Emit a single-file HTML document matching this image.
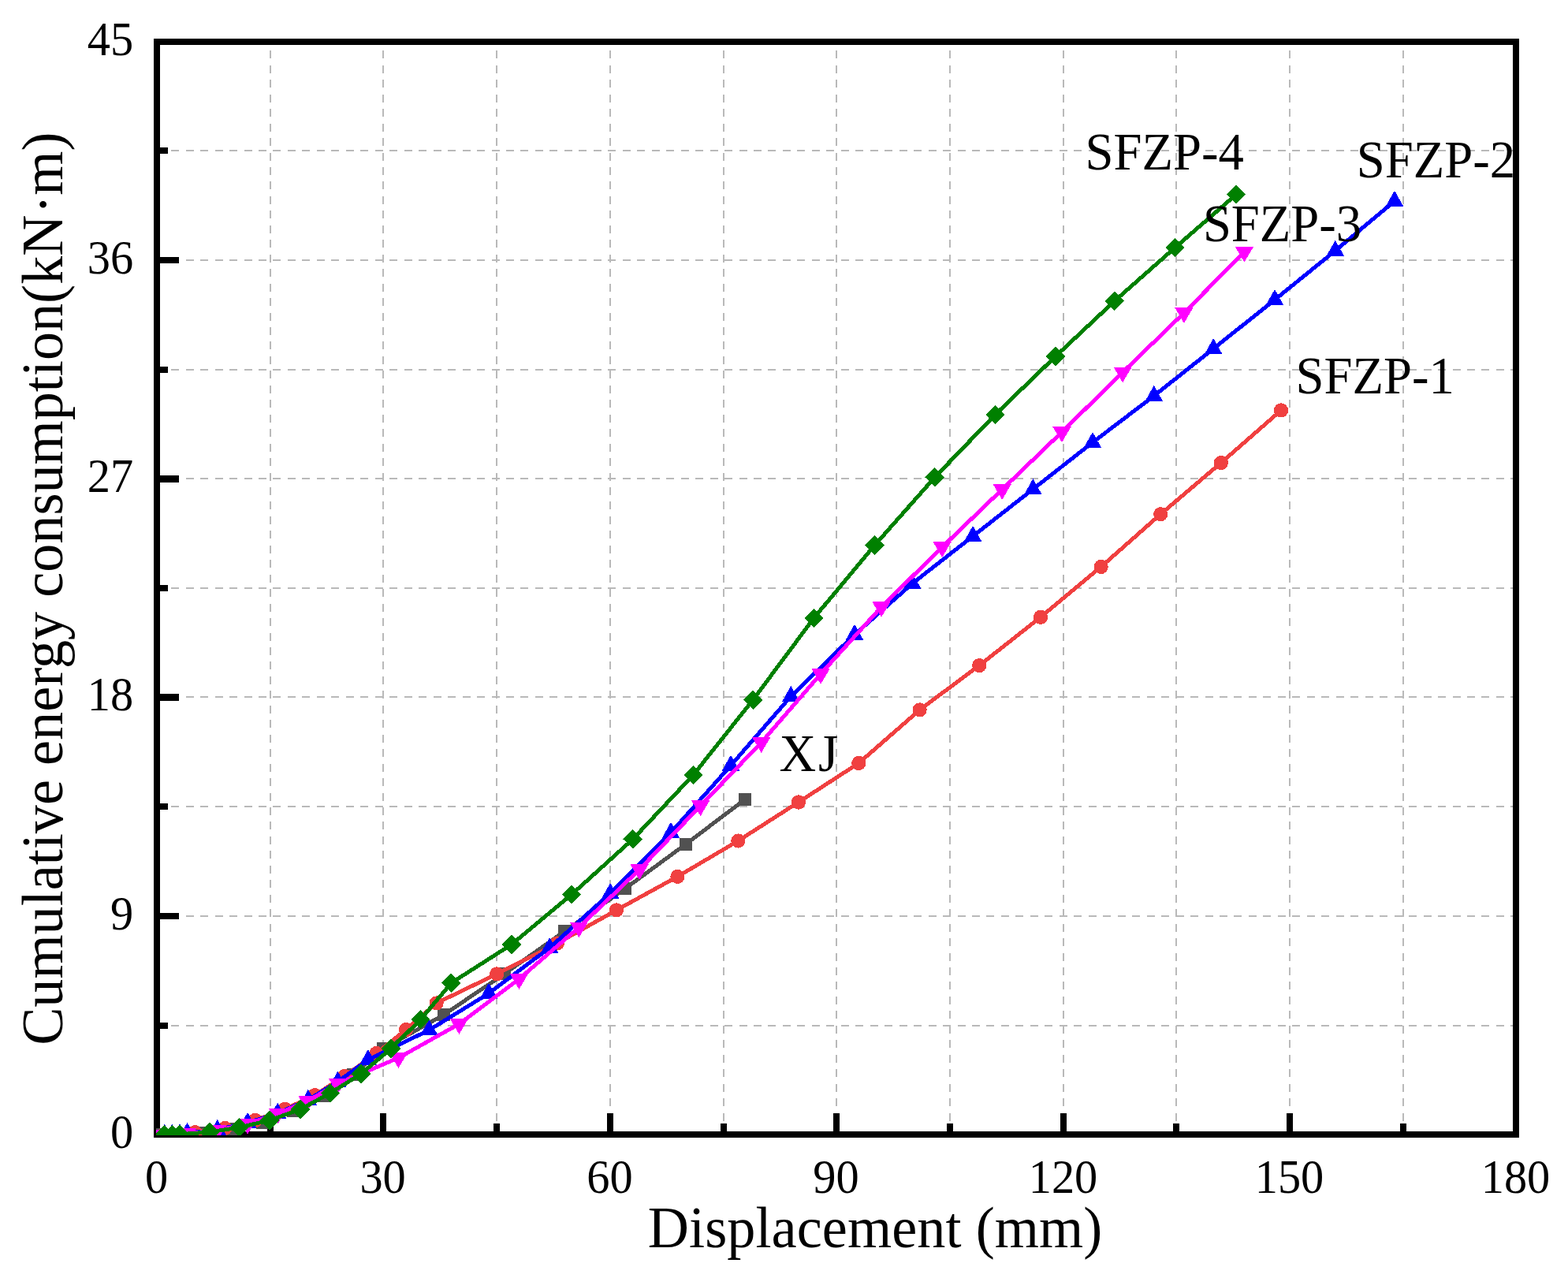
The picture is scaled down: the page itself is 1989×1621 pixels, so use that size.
<!DOCTYPE html>
<html lang="en"><head><meta charset="utf-8"><title>Cumulative energy consumption vs displacement</title>
<style>
html,body{margin:0;padding:0;background:#fff;}
body{width:1989px;height:1621px;overflow:hidden;}
svg{display:block;}
text{font-family:"Liberation Serif","Times New Roman",Times,serif;fill:#000;}
.tk{font-size:58.4px;}
.ti{font-size:72.2px;}
.lb{font-size:64.7px;}
</style></head><body>
<svg width="1989" height="1621" viewBox="0 0 1989 1621" role="img" aria-label="Cumulative energy consumption versus displacement">
<defs><clipPath id="pc"><rect x="198" y="53" width="1726" height="1387"/></clipPath></defs>
<rect width="1989" height="1621" fill="#fff"/>
<g stroke="#b9b9b9" stroke-width="2" fill="none" shape-rendering="crispEdges">
<g stroke-dasharray="10 8.454">
<line x1="343" y1="1440" x2="343" y2="53"/>
<line x1="486" y1="1440" x2="486" y2="53"/>
<line x1="630" y1="1440" x2="630" y2="53"/>
<line x1="774" y1="1440" x2="774" y2="53"/>
<line x1="918" y1="1440" x2="918" y2="53"/>
<line x1="1061" y1="1440" x2="1061" y2="53"/>
<line x1="1205" y1="1440" x2="1205" y2="53"/>
<line x1="1349" y1="1440" x2="1349" y2="53"/>
<line x1="1492" y1="1440" x2="1492" y2="53"/>
<line x1="1636" y1="1440" x2="1636" y2="53"/>
<line x1="1780" y1="1440" x2="1780" y2="53"/>
</g>
<g stroke-dasharray="10 8.47">
<line x1="198.7" y1="1301" x2="1923" y2="1301"/>
<line x1="198.7" y1="1162" x2="1923" y2="1162"/>
<line x1="198.7" y1="1023" x2="1923" y2="1023"/>
<line x1="198.7" y1="884" x2="1923" y2="884"/>
<line x1="198.7" y1="746" x2="1923" y2="746"/>
<line x1="198.7" y1="607" x2="1923" y2="607"/>
<line x1="198.7" y1="469" x2="1923" y2="469"/>
<line x1="198.7" y1="330" x2="1923" y2="330"/>
<line x1="198.7" y1="191" x2="1923" y2="191"/>
</g>
</g>
<g fill="#000" shape-rendering="crispEdges">
<rect x="195" y="49" width="1732" height="8"/>
<rect x="195" y="1435" width="1732" height="8"/>
<rect x="195" y="49" width="8" height="1394"/>
<rect x="1919" y="49" width="8" height="1394"/>
<rect x="339" y="1425" width="8" height="10"/>
<rect x="482" y="1412" width="8" height="23"/>
<rect x="626" y="1425" width="8" height="10"/>
<rect x="770" y="1412" width="8" height="23"/>
<rect x="914" y="1425" width="8" height="10"/>
<rect x="1057" y="1412" width="8" height="23"/>
<rect x="1201" y="1425" width="8" height="10"/>
<rect x="1345" y="1412" width="8" height="23"/>
<rect x="1488" y="1425" width="8" height="10"/>
<rect x="1632" y="1412" width="8" height="23"/>
<rect x="1776" y="1425" width="8" height="10"/>
<rect x="203" y="1297" width="10" height="8"/>
<rect x="203" y="1158" width="24" height="8"/>
<rect x="203" y="1019" width="10" height="8"/>
<rect x="203" y="880" width="24" height="9"/>
<rect x="203" y="742" width="10" height="8"/>
<rect x="203" y="603" width="24" height="9"/>
<rect x="203" y="465" width="10" height="8"/>
<rect x="203" y="326" width="24" height="8"/>
<rect x="203" y="187" width="10" height="8"/>
</g>
<g clip-path="url(#pc)" shape-rendering="crispEdges">
<g fill="#515151" stroke="none">
<polyline fill="none" stroke="#515151" stroke-width="5.0" stroke-linejoin="round" points="199.2,1439.1 256.6,1437.2 294.9,1431.5 333.2,1423.7 371.6,1408.9 409.9,1389.9 448.2,1362.9 486.1,1330.2 562.8,1287.2 639.7,1235.3 716.2,1181.3 793,1127.1 869.6,1071 945,1014"/>
<rect x="191.2" y="1431.1" width="16" height="16"/>
<rect x="248.6" y="1429.2" width="16" height="16"/>
<rect x="286.9" y="1423.5" width="16" height="16"/>
<rect x="325.2" y="1415.7" width="16" height="16"/>
<rect x="363.6" y="1400.9" width="16" height="16"/>
<rect x="401.9" y="1381.9" width="16" height="16"/>
<rect x="440.2" y="1354.9" width="16" height="16"/>
<rect x="478.1" y="1322.2" width="16" height="16"/>
<rect x="554.8" y="1279.2" width="16" height="16"/>
<rect x="631.7" y="1227.3" width="16" height="16"/>
<rect x="708.2" y="1173.3" width="16" height="16"/>
<rect x="785" y="1119.1" width="16" height="16"/>
<rect x="861.6" y="1063" width="16" height="16"/>
<rect x="937" y="1006" width="16" height="16"/>
</g>
<g fill="#f04040" stroke="none">
<polyline fill="none" stroke="#f04040" stroke-width="5.0" stroke-linejoin="round" points="208.7,1439.1 218.3,1439.1 227.9,1439.1 247.3,1436.1 285.4,1431 323.7,1421 361.5,1406.9 399.3,1389.1 437,1365 477.4,1336 515,1306.1 553.6,1272.4 630.2,1235.4 706.9,1196.5 782,1154.4 859.4,1111.9 936.4,1066.5 1012.9,1017.5 1089.3,968 1166.6,900.4 1242.2,844.1 1320,782.8 1396.6,719 1472.2,652.2 1548.9,587 1625,520.5"/>
<circle cx="208.7" cy="1439.1" r="9.1"/>
<circle cx="218.3" cy="1439.1" r="9.1"/>
<circle cx="227.9" cy="1439.1" r="9.1"/>
<circle cx="247.3" cy="1436.1" r="9.1"/>
<circle cx="285.4" cy="1431" r="9.1"/>
<circle cx="323.7" cy="1421" r="9.1"/>
<circle cx="361.5" cy="1406.9" r="9.1"/>
<circle cx="399.3" cy="1389.1" r="9.1"/>
<circle cx="437" cy="1365" r="9.1"/>
<circle cx="477.4" cy="1336" r="9.1"/>
<circle cx="515" cy="1306.1" r="9.1"/>
<circle cx="553.6" cy="1272.4" r="9.1"/>
<circle cx="630.2" cy="1235.4" r="9.1"/>
<circle cx="706.9" cy="1196.5" r="9.1"/>
<circle cx="782" cy="1154.4" r="9.1"/>
<circle cx="859.4" cy="1111.9" r="9.1"/>
<circle cx="936.4" cy="1066.5" r="9.1"/>
<circle cx="1012.9" cy="1017.5" r="9.1"/>
<circle cx="1089.3" cy="968" r="9.1"/>
<circle cx="1166.6" cy="900.4" r="9.1"/>
<circle cx="1242.2" cy="844.1" r="9.1"/>
<circle cx="1320" cy="782.8" r="9.1"/>
<circle cx="1396.6" cy="719" r="9.1"/>
<circle cx="1472.2" cy="652.2" r="9.1"/>
<circle cx="1548.9" cy="587" r="9.1"/>
<circle cx="1625" cy="520.5" r="9.1"/>
</g>
<g fill="#0000ff" stroke="none">
<polyline fill="none" stroke="#0000ff" stroke-width="5.0" stroke-linejoin="round" points="208.7,1439.1 218.3,1439.1 227.9,1438.5 237.5,1437.1 275.8,1433 314.1,1424.1 352.1,1412 390.9,1395 428.4,1372 466.9,1344.2 544.4,1306.5 620,1260 697.1,1202.2 774.1,1133.2 851,1056.1 927,971 1003.3,883.2 1084,805 1157.3,740.1 1234.1,680.1 1310.4,620.4 1386,561.2 1463.8,502.1 1539.2,442.3 1617,380.2 1693.8,318 1769,255"/>
<path d="M208.7 1425.8L219.9 1445.8L197.5 1445.8Z"/>
<path d="M218.3 1425.8L229.5 1445.8L207.1 1445.8Z"/>
<path d="M227.9 1425.2L239.1 1445.2L216.7 1445.2Z"/>
<path d="M237.5 1423.8L248.7 1443.8L226.3 1443.8Z"/>
<path d="M275.8 1419.7L287 1439.7L264.6 1439.7Z"/>
<path d="M314.1 1410.8L325.3 1430.8L302.9 1430.8Z"/>
<path d="M352.1 1398.7L363.3 1418.7L340.9 1418.7Z"/>
<path d="M390.9 1381.7L402.1 1401.7L379.7 1401.7Z"/>
<path d="M428.4 1358.7L439.6 1378.7L417.2 1378.7Z"/>
<path d="M466.9 1330.9L478.1 1350.9L455.7 1350.9Z"/>
<path d="M544.4 1293.2L555.6 1313.2L533.2 1313.2Z"/>
<path d="M620 1246.7L631.2 1266.7L608.8 1266.7Z"/>
<path d="M697.1 1188.9L708.3 1208.9L685.9 1208.9Z"/>
<path d="M774.1 1119.9L785.3 1139.9L762.9 1139.9Z"/>
<path d="M851 1042.8L862.2 1062.8L839.8 1062.8Z"/>
<path d="M927 957.7L938.2 977.7L915.8 977.7Z"/>
<path d="M1003.3 869.9L1014.5 889.9L992.1 889.9Z"/>
<path d="M1084 791.7L1095.2 811.7L1072.8 811.7Z"/>
<path d="M1157.3 726.8L1168.5 746.8L1146.1 746.8Z"/>
<path d="M1234.1 666.8L1245.3 686.8L1222.9 686.8Z"/>
<path d="M1310.4 607.1L1321.6 627.1L1299.2 627.1Z"/>
<path d="M1386 547.9L1397.2 567.9L1374.8 567.9Z"/>
<path d="M1463.8 488.8L1475 508.8L1452.6 508.8Z"/>
<path d="M1539.2 429L1550.4 449L1528 449Z"/>
<path d="M1617 366.9L1628.2 386.9L1605.8 386.9Z"/>
<path d="M1693.8 304.7L1705 324.7L1682.6 324.7Z"/>
<path d="M1769 241.7L1780.2 261.7L1757.8 261.7Z"/>
</g>
<g fill="#ff00ff" stroke="none">
<polyline fill="none" stroke="#ff00ff" stroke-width="5.0" stroke-linejoin="round" points="199.2,1439.3 237.5,1437.8 275.8,1433.7 314.1,1425.6 352.4,1412.5 389.9,1396.7 428.6,1374.6 505.5,1341.8 582.4,1298.8 658.4,1241.8 734.4,1176.2 811.1,1103 888.6,1022 965.7,941.8 1041,854.9 1118,769.9 1195.1,694 1271.2,620.8 1347,548 1424.1,472.2 1501.9,396.9 1578.4,319.6"/>
<path d="M199.2 1452.4L210.8 1432.7L187.6 1432.7Z"/>
<path d="M237.5 1450.9L249.1 1431.2L225.9 1431.2Z"/>
<path d="M275.8 1446.8L287.4 1427.1L264.2 1427.1Z"/>
<path d="M314.1 1438.7L325.7 1419L302.5 1419Z"/>
<path d="M352.4 1425.6L364 1405.9L340.8 1405.9Z"/>
<path d="M389.9 1409.8L401.5 1390.1L378.3 1390.1Z"/>
<path d="M428.6 1387.7L440.2 1368L417 1368Z"/>
<path d="M505.5 1354.9L517.1 1335.2L493.9 1335.2Z"/>
<path d="M582.4 1311.9L594 1292.2L570.8 1292.2Z"/>
<path d="M658.4 1254.9L670 1235.2L646.8 1235.2Z"/>
<path d="M734.4 1189.3L746 1169.6L722.8 1169.6Z"/>
<path d="M811.1 1116.1L822.7 1096.4L799.5 1096.4Z"/>
<path d="M888.6 1035.1L900.2 1015.4L877 1015.4Z"/>
<path d="M965.7 954.9L977.3 935.2L954.1 935.2Z"/>
<path d="M1041 868L1052.6 848.3L1029.4 848.3Z"/>
<path d="M1118 783L1129.6 763.3L1106.4 763.3Z"/>
<path d="M1195.1 707.1L1206.7 687.4L1183.5 687.4Z"/>
<path d="M1271.2 633.9L1282.8 614.2L1259.6 614.2Z"/>
<path d="M1347 561.1L1358.6 541.4L1335.4 541.4Z"/>
<path d="M1424.1 485.3L1435.7 465.6L1412.5 465.6Z"/>
<path d="M1501.9 410L1513.5 390.3L1490.3 390.3Z"/>
<path d="M1578.4 332.7L1590 313L1566.8 313Z"/>
</g>
<g fill="#008000" stroke="none">
<polyline fill="none" stroke="#008000" stroke-width="5.0" stroke-linejoin="round" points="208.7,1439.2 218.3,1439.2 227.9,1438.8 266,1435.9 303.6,1430 342.1,1421 381,1407 418.9,1386.5 458,1362 496.1,1330 533.7,1293.1 572.3,1246.9 649,1197.9 725,1134.7 802.7,1064.5 879.4,983 955.1,887.8 1032.4,783.9 1109.5,691.6 1185.7,605.5 1262.4,525.9 1339,452 1413.7,381.9 1490.5,314.1 1568,246.8"/>
<path d="M208.7 1427L220.9 1439.2L208.7 1451.4L196.5 1439.2Z"/>
<path d="M218.3 1427L230.5 1439.2L218.3 1451.4L206.1 1439.2Z"/>
<path d="M227.9 1426.6L240.1 1438.8L227.9 1451L215.7 1438.8Z"/>
<path d="M266 1423.7L278.2 1435.9L266 1448.1L253.8 1435.9Z"/>
<path d="M303.6 1417.8L315.8 1430L303.6 1442.2L291.4 1430Z"/>
<path d="M342.1 1408.8L354.3 1421L342.1 1433.2L329.9 1421Z"/>
<path d="M381 1394.8L393.2 1407L381 1419.2L368.8 1407Z"/>
<path d="M418.9 1374.3L431.1 1386.5L418.9 1398.7L406.7 1386.5Z"/>
<path d="M458 1349.8L470.2 1362L458 1374.2L445.8 1362Z"/>
<path d="M496.1 1317.8L508.3 1330L496.1 1342.2L483.9 1330Z"/>
<path d="M533.7 1280.9L545.9 1293.1L533.7 1305.3L521.5 1293.1Z"/>
<path d="M572.3 1234.7L584.5 1246.9L572.3 1259.1L560.1 1246.9Z"/>
<path d="M649 1185.7L661.2 1197.9L649 1210.1L636.8 1197.9Z"/>
<path d="M725 1122.5L737.2 1134.7L725 1146.9L712.8 1134.7Z"/>
<path d="M802.7 1052.3L814.9 1064.5L802.7 1076.7L790.5 1064.5Z"/>
<path d="M879.4 970.8L891.6 983L879.4 995.2L867.2 983Z"/>
<path d="M955.1 875.6L967.3 887.8L955.1 900L942.9 887.8Z"/>
<path d="M1032.4 771.7L1044.6 783.9L1032.4 796.1L1020.2 783.9Z"/>
<path d="M1109.5 679.4L1121.7 691.6L1109.5 703.8L1097.3 691.6Z"/>
<path d="M1185.7 593.3L1197.9 605.5L1185.7 617.7L1173.5 605.5Z"/>
<path d="M1262.4 513.7L1274.6 525.9L1262.4 538.1L1250.2 525.9Z"/>
<path d="M1339 439.8L1351.2 452L1339 464.2L1326.8 452Z"/>
<path d="M1413.7 369.7L1425.9 381.9L1413.7 394.1L1401.5 381.9Z"/>
<path d="M1490.5 301.9L1502.7 314.1L1490.5 326.3L1478.3 314.1Z"/>
<path d="M1568 234.6L1580.2 246.8L1568 259L1555.8 246.8Z"/>
</g>
</g>
<g class="tk" text-anchor="middle">
<text transform="translate(198.6 1512.9) scale(1 1.042)">0</text>
<text transform="translate(485.6 1512.9) scale(1 1.042)">30</text>
<text transform="translate(773.5 1512.9) scale(1 1.042)">60</text>
<text transform="translate(1060.5 1512.9) scale(1 1.042)">90</text>
<text transform="translate(1348.5 1512.9) scale(1 1.042)">120</text>
<text transform="translate(1635.5 1512.9) scale(1 1.042)">150</text>
<text transform="translate(1922.5 1512.9) scale(1 1.042)">180</text>
</g>
<g class="tk" text-anchor="end">
<text transform="translate(169.2 1456.1) scale(1 1.042)">0</text>
<text transform="translate(169.2 1179.1) scale(1 1.042)">9</text>
<text transform="translate(169.2 901.1) scale(1 1.042)">18</text>
<text transform="translate(169.2 624.1) scale(1 1.042)">27</text>
<text transform="translate(169.2 347.1) scale(1 1.042)">36</text>
<text transform="translate(169.2 70.1) scale(1 1.042)">45</text>
</g>
<text class="ti" transform="translate(821.8 1582) scale(1 1.02)" textLength="576.5" lengthAdjust="spacing">Displacement (mm)</text>
<text class="ti" transform="translate(79.3 1325.8) rotate(-90) scale(1 1.02)">Cumulative energy consumption(kN<tspan dx="1.3">·</tspan><tspan dx="-0.4">m)</tspan></text>
<text class="lb" transform="translate(1376.5 215.4) scale(1 1.03)">SFZP-4</text>
<text class="lb" transform="translate(1720.8 225.2) scale(1 1.03)">SFZP-2</text>
<text class="lb" transform="translate(1525.9 305.9) scale(1 1.03)">SFZP-3</text>
<text class="lb" transform="translate(1643.5 498.5) scale(1 1.03)">SFZP-1</text>
<text class="lb" transform="translate(988.4 978.1) scale(1 1.03)">X<tspan dx="3">J</tspan></text>
</svg>
</body></html>
